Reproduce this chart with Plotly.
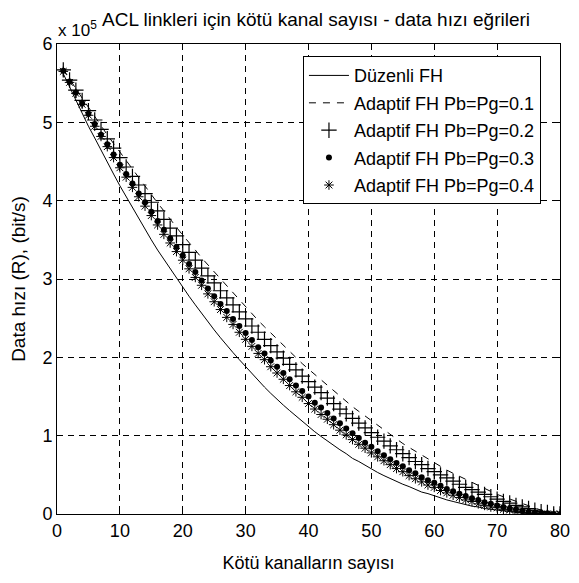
import plotly.graph_objects as go

FONT = "Liberation Sans, Arial, sans-serif"

# x: number of bad channels
kotu_kanal = list(range(1, 81))

# y values in units of 1e5 bit/s
duzenli_fh = [5.62, 5.45, 5.28, 5.12, 4.95, 4.80, 4.64, 4.49, 4.34, 4.19,
              4.05, 3.91, 3.77, 3.64, 3.50, 3.37, 3.25, 3.13, 3.01, 2.89,
              2.78, 2.67, 2.56, 2.45, 2.35, 2.25, 2.15, 2.06, 1.97, 1.88,
              1.79, 1.70, 1.62, 1.54, 1.46, 1.39, 1.32, 1.25, 1.18, 1.11,
              1.05, 0.99, 0.93, 0.87, 0.82, 0.77, 0.71, 0.67, 0.62, 0.57,
              0.53, 0.49, 0.45, 0.41, 0.38, 0.35, 0.31, 0.28, 0.26, 0.23,
              0.20, 0.18, 0.16, 0.14, 0.12, 0.10, 0.09, 0.07, 0.06, 0.05,
              0.04, 0.03, 0.02, 0.01, 0.01, 0.01, 0.00, 0.00, 0.00, 0.00]

adaptif_01 = [5.68, 5.55, 5.43, 5.31, 5.19, 5.08, 4.96, 4.84, 4.73, 4.62,
              4.51, 4.40, 4.29, 4.18, 4.08, 3.97, 3.87, 3.76, 3.66, 3.56,
              3.47, 3.37, 3.27, 3.18, 3.09, 3.00, 2.91, 2.82, 2.73, 2.64,
              2.56, 2.47, 2.39, 2.31, 2.23, 2.15, 2.07, 2.00, 1.92, 1.85,
              1.78, 1.71, 1.64, 1.57, 1.50, 1.44, 1.37, 1.31, 1.25, 1.19,
              1.13, 1.07, 1.01, 0.96, 0.90, 0.85, 0.80, 0.75, 0.70, 0.65,
              0.61, 0.56, 0.52, 0.48, 0.44, 0.40, 0.36, 0.32, 0.29, 0.25,
              0.22, 0.19, 0.16, 0.13, 0.10, 0.07, 0.05, 0.02, 0.00, 0.00]

adaptif_02 = [5.67, 5.54, 5.41, 5.28, 5.15, 5.03, 4.91, 4.79, 4.67, 4.55,
              4.43, 4.31, 4.20, 4.09, 3.98, 3.87, 3.76, 3.65, 3.55, 3.44,
              3.34, 3.24, 3.14, 3.04, 2.95, 2.85, 2.76, 2.67, 2.58, 2.49,
              2.40, 2.32, 2.23, 2.15, 2.07, 1.99, 1.91, 1.84, 1.76, 1.69,
              1.62, 1.55, 1.48, 1.41, 1.34, 1.28, 1.22, 1.16, 1.10, 1.04,
              0.98, 0.93, 0.87, 0.82, 0.77, 0.72, 0.67, 0.63, 0.58, 0.54,
              0.50, 0.46, 0.42, 0.38, 0.34, 0.31, 0.28, 0.25, 0.22, 0.19,
              0.16, 0.14, 0.11, 0.09, 0.07, 0.05, 0.03, 0.02, 0.00, 0.00]

adaptif_03 = [5.66, 5.52, 5.38, 5.24, 5.11, 4.98, 4.84, 4.72, 4.59, 4.46,
              4.34, 4.22, 4.09, 3.98, 3.86, 3.74, 3.63, 3.52, 3.41, 3.30,
              3.19, 3.09, 2.98, 2.88, 2.78, 2.68, 2.59, 2.49, 2.40, 2.31,
              2.22, 2.13, 2.05, 1.96, 1.88, 1.80, 1.72, 1.64, 1.57, 1.50,
              1.42, 1.36, 1.29, 1.22, 1.16, 1.09, 1.03, 0.97, 0.91, 0.86,
              0.80, 0.75, 0.70, 0.65, 0.61, 0.56, 0.52, 0.47, 0.43, 0.40,
              0.36, 0.32, 0.29, 0.26, 0.23, 0.20, 0.18, 0.15, 0.13, 0.11,
              0.09, 0.07, 0.06, 0.04, 0.03, 0.02, 0.01, 0.01, 0.00, 0.00]

adaptif_04 = [5.65, 5.51, 5.37, 5.23, 5.09, 4.95, 4.82, 4.69, 4.55, 4.42,
              4.30, 4.17, 4.05, 3.93, 3.81, 3.69, 3.57, 3.46, 3.35, 3.24,
              3.13, 3.02, 2.92, 2.81, 2.71, 2.61, 2.51, 2.42, 2.32, 2.23,
              2.14, 2.05, 1.97, 1.88, 1.80, 1.72, 1.64, 1.56, 1.49, 1.41,
              1.34, 1.27, 1.21, 1.14, 1.07, 1.01, 0.95, 0.89, 0.84, 0.78,
              0.73, 0.68, 0.63, 0.58, 0.54, 0.49, 0.45, 0.41, 0.37, 0.34,
              0.30, 0.27, 0.24, 0.21, 0.18, 0.16, 0.13, 0.11, 0.09, 0.08,
              0.06, 0.05, 0.03, 0.02, 0.01, 0.01, 0.00, 0.00, 0.00, 0.00]

legend_labels = ["Düzenli FH", "Adaptif FH Pb=Pg=0.1", "Adaptif FH Pb=Pg=0.2",
                 "Adaptif FH Pb=Pg=0.3", "Adaptif FH Pb=Pg=0.4"]

x_ticks = [0, 10, 20, 30, 40, 50, 60, 70, 80]
y_ticks = [0, 1, 2, 3, 4, 5, 6]

title_text = "ACL linkleri için kötü kanal sayısı - data hızı eğrileri"
exp_text = "x 10<sup>5</sup>"
x_title = "Kötü kanalların sayısı"
y_title = "Data hızı (R), (bit/s)"

fig = go.Figure()
fig.add_trace(go.Scatter(x=kotu_kanal, y=duzenli_fh, mode="lines", name=legend_labels[0],
                         line=dict(color="black", width=1), legendgroup="a"))
fig.add_trace(go.Scatter(x=kotu_kanal, y=adaptif_01, mode="lines", name=legend_labels[1],
                         line=dict(color="black", width=1, dash="7px,7px"), legendgroup="b"))
fig.add_trace(go.Scatter(x=kotu_kanal, y=adaptif_02, mode="markers", name=legend_labels[2],
                         marker=dict(symbol="cross-thin-open", size=11, color="black",
                                     line=dict(color="black", width=1.2)), legendgroup="c"))
fig.add_trace(go.Scatter(x=kotu_kanal, y=adaptif_03, mode="markers", name=legend_labels[3],
                         marker=dict(symbol="circle", size=6, color="black",
                                     line=dict(width=0)), legendgroup="d"))
fig.add_trace(go.Scatter(x=kotu_kanal, y=adaptif_04, mode="markers", name=legend_labels[4],
                         marker=dict(symbol="asterisk-open", size=8, color="black",
                                     line=dict(color="black", width=1)), legendgroup="e"))

axis_common = dict(
    showline=True, linecolor="black", linewidth=1, mirror="ticks",
    ticks="inside", ticklen=5, tickcolor="black",
    showgrid=True, gridcolor="black", gridwidth=1, griddash="6px,5px",
    zeroline=False, automargin=False,
    tickfont=dict(family=FONT, size=18, color="black"),
)

fig.update_xaxes(range=[0, 80], tickvals=x_ticks, **axis_common,
                 title=dict(text=x_title, font=dict(family=FONT, size=18, color="black"),
                            standoff=16))
fig.update_yaxes(range=[0, 6], tickvals=y_ticks, **axis_common,
                 title=dict(text=y_title, font=dict(family=FONT, size=19, color="black"),
                            standoff=12))

fig.add_annotation(text=title_text, xref="paper", yref="paper", x=0.515, y=1.0,
                   yshift=12, xanchor="center", yanchor="bottom", showarrow=False,
                   font=dict(family=FONT, size=19, color="black"))
fig.add_annotation(text=exp_text, xref="paper", yref="paper", x=0.0, y=1.0,
                   xshift=-1, yshift=2, xanchor="left", yanchor="bottom", showarrow=False,
                   font=dict(family=FONT, size=17, color="black"))

fig.update_layout(
    width=579, height=583,
    margin=dict(l=49, r=27, t=36, b=77),
    paper_bgcolor="white", plot_bgcolor="white",
    showlegend=True,
    legend=dict(x=0.489, y=0.974, xanchor="left", yanchor="top",
                bgcolor="white", bordercolor="black", borderwidth=1,
                font=dict(family=FONT, size=18, color="black"),
                tracegroupgap=1, itemwidth=40),
)

fig.write_html("out.html")
